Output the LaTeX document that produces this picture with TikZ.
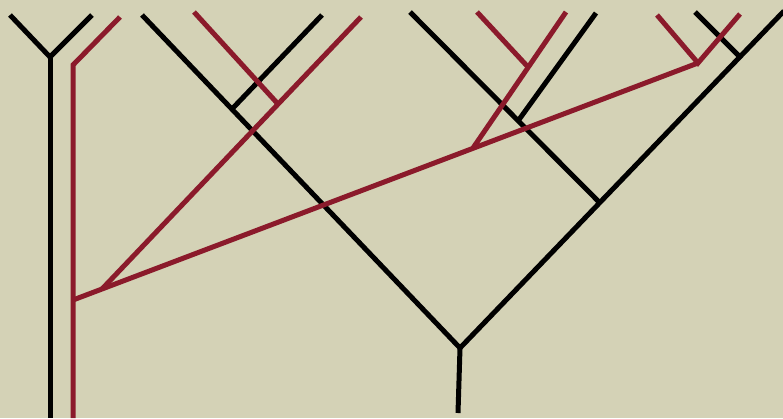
\documentclass[tikz,border=0pt]{standalone}
\usepackage{tikz}
\usetikzlibrary{calc}
\definecolor{bgbeige}{RGB}{212,210,182}
\definecolor{winered}{RGB}{139,26,43}

\begin{document}
\begin{tikzpicture}[x=1pt,y=-1pt,
  btree/.style={draw=black,line width=5pt},
  rtree/.style={draw=winered,line width=5pt}]
  \useasboundingbox (0,0) rectangle (783,418);
  \fill[bgbeige] (0,0) rectangle (783,418);
  % black trees
  \coordinate (b1L) at (10,15);   \coordinate (b1R) at (92,15);
  \coordinate (b1J) at (50,57);   \coordinate (b1B) at (50,418);
  \coordinate (mJ) at (460,348);  \coordinate (mB) at (458,413);
  \coordinate (mL) at (142,15);   \coordinate (mR) at (784,11);
  \coordinate (bJa) at (232,109); \coordinate (bTa) at (322,15);
  \coordinate (bJb) at (600,203); \coordinate (bTb) at (410,12);
  \coordinate (bJc) at (518,121); \coordinate (bTc) at (596,13);
  \coordinate (bJd) at (740,57);  \coordinate (bTd) at (695,12);
  % red trees
  \coordinate (r1B) at (73,418);  \coordinate (r1J) at (73,65);
  \coordinate (r1T) at (120,17);
  \coordinate (rA) at (73,300);   \coordinate (rB) at (102,289);
  \coordinate (rC) at (698,63);
  \coordinate (rTa) at (361,17);  \coordinate (rJa) at (278,104);
  \coordinate (rSa) at (194,12);
  \coordinate (rF) at (473,148);  \coordinate (rTf) at (566,12);
  \coordinate (rJf) at (528,67);  \coordinate (rSf) at (477,12);
  \coordinate (rCl) at (657,15);  \coordinate (rCr) at (740,14);

  \draw[btree] (b1L)--(b1J)--(b1R); \draw[btree] (b1J)--(b1B);
  \draw[btree] (mL)--(mJ)--(mR); \draw[btree] (mJ)--(mB);
  \draw[btree] (bJa)--(bTa);
  \draw[btree] (bTb)--(bJb); \draw[btree] (bJc)--(bTc);
  \draw[btree] (bJd)--(bTd);

  \draw[rtree] (r1B)--(r1J)--(r1T);
  \draw[rtree] (rA)--(rC);
  \draw[rtree] (rB)--(rTa); \draw[rtree] (rJa)--(rSa);
  \draw[rtree] (rF)--(rTf); \draw[rtree] (rJf)--(rSf);
  \draw[rtree] (rCl)--(rC)--(rCr);
\end{tikzpicture}
\end{document}
